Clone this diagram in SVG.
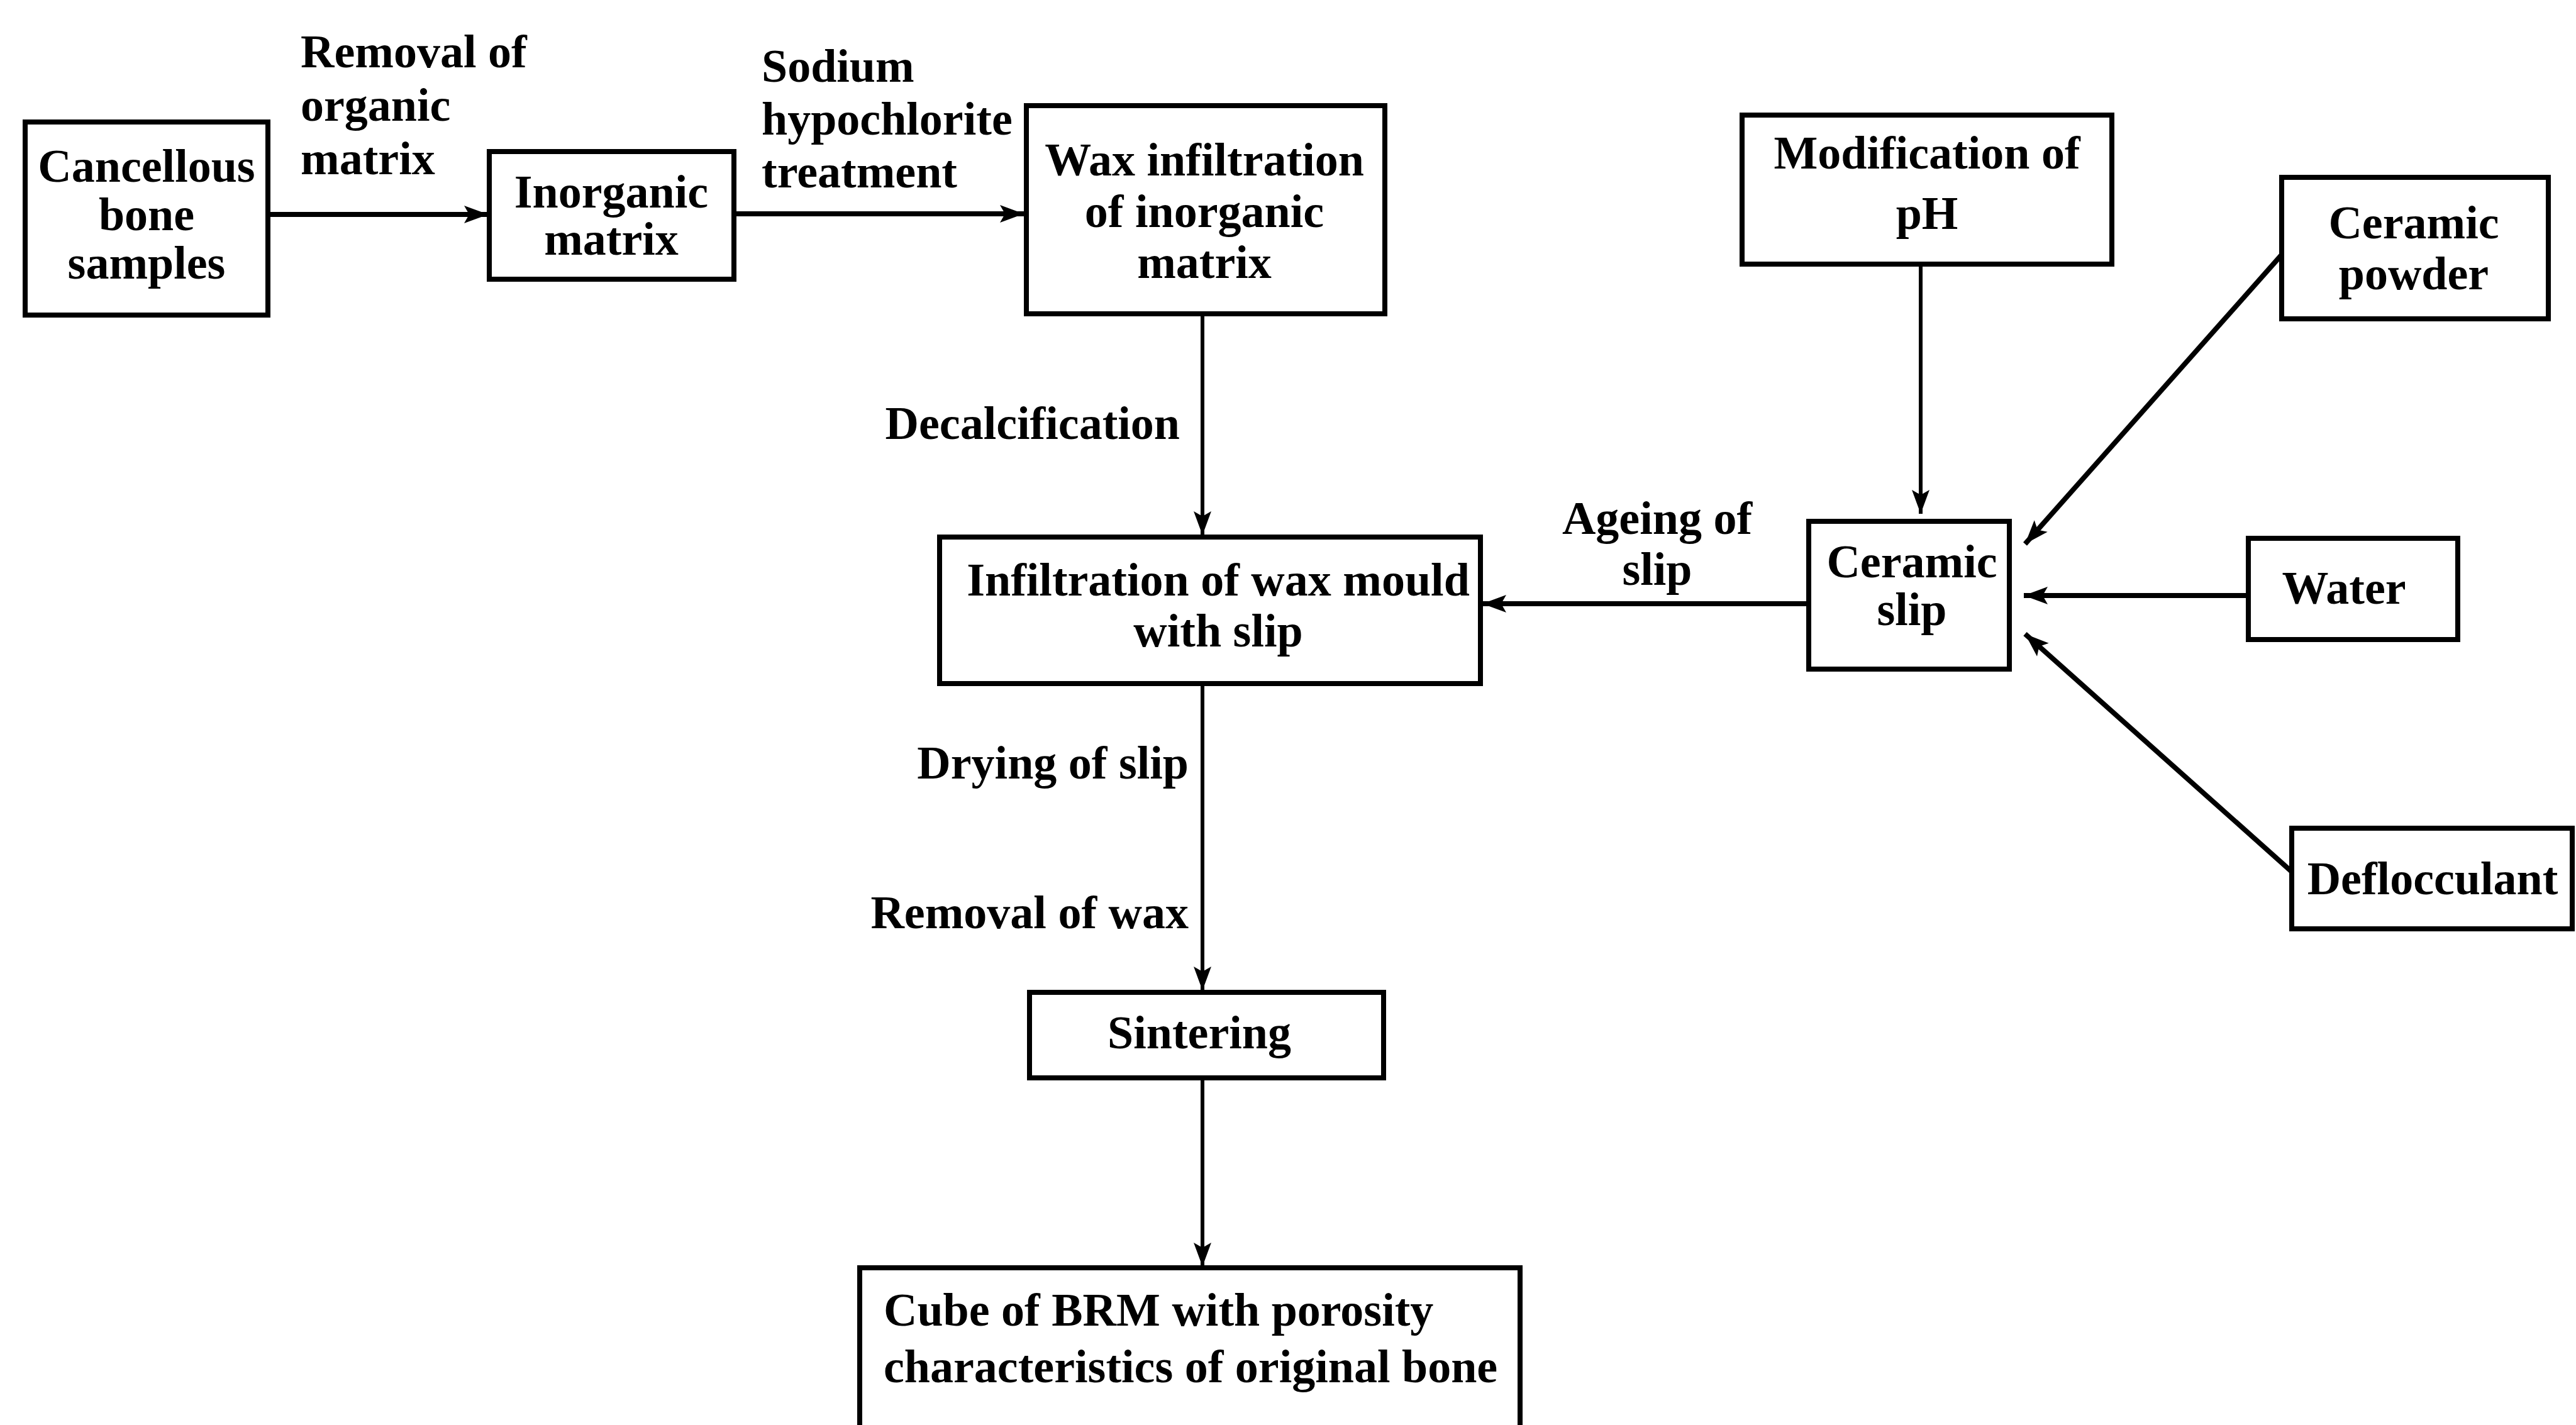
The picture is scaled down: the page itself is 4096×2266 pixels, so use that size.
<svg xmlns="http://www.w3.org/2000/svg" width="4096" height="2266" viewBox="0 0 4096 2266">
<style>
.box{fill:#fff;stroke:#000;stroke-width:8}
.t{font-family:"Liberation Serif","Times New Roman",serif;font-weight:bold;font-size:74px;fill:#000}
.c{text-anchor:middle}
.e{text-anchor:end}
.ln{stroke:#000;stroke-width:6;fill:none;marker-end:url(#ah)}
.lh{stroke-width:8}
</style>
<defs>
<marker id="ah" markerUnits="userSpaceOnUse" markerWidth="48" markerHeight="48" viewBox="0 0 48 48" refX="44" refY="24" orient="auto">
<path d="M6,10 L44,24 L6,38 L14,24 Z" fill="#000"/>
</marker>
</defs>
<rect width="4096" height="2266" fill="#fff"/>
<g id="connectors">
<line class="ln lh" x1="428" y1="341" x2="776" y2="341"/>
<line class="ln lh" x1="1168" y1="340" x2="1628" y2="340"/>
<line class="ln" x1="1912" y1="500" x2="1912" y2="851"/>
<line class="ln" x1="3054" y1="421" x2="3054" y2="817"/>
<line class="ln lh" x1="3628" y1="405" x2="3220" y2="865"/>
<line class="ln lh" x1="3574" y1="947" x2="3218" y2="947"/>
<line class="ln lh" x1="3646" y1="1388" x2="3220" y2="1008"/>
<line class="ln lh" x1="2875" y1="960" x2="2357" y2="960"/>
<line class="ln" x1="1912" y1="1088" x2="1912" y2="1575"/>
<line class="ln" x1="1912" y1="1714" x2="1912" y2="2014"/>
<text class="t" x="478" y="107">Removal of</text>
<text class="t" x="478" y="192">organic</text>
<text class="t" x="478" y="277">matrix</text>
<text class="t" x="1211" y="130">Sodium</text>
<text class="t" x="1211" y="214">hypochlorite</text>
<text class="t" x="1211" y="298">treatment</text>
<text class="t e" x="1876" y="698">Decalcification</text>
<text class="t c" x="2635" y="849">Ageing of</text>
<text class="t c" x="2635" y="930">slip</text>
<text class="t e" x="1890" y="1238">Drying of slip</text>
<text class="t e" x="1890" y="1476">Removal of wax</text>
</g>
<g id="n1"><rect class="box" x="40" y="194" width="386" height="307"/>
<text class="t c" x="233" y="289">Cancellous</text><text class="t c" x="233" y="366">bone</text><text class="t c" x="233" y="443">samples</text></g>
<g id="n2"><rect class="box" x="778" y="241" width="389" height="203"/>
<text class="t c" x="972" y="330">Inorganic</text><text class="t c" x="972" y="405">matrix</text></g>
<g id="n3"><rect class="box" x="1632" y="168" width="570" height="331"/>
<text class="t c" x="1915" y="279">Wax infiltration</text><text class="t c" x="1915" y="361">of inorganic</text><text class="t c" x="1915" y="442">matrix</text></g>
<g id="n4"><rect class="box" x="2770" y="183" width="588" height="237"/>
<text class="t c" x="3064" y="268">Modification of</text><text class="t c" x="3064" y="364">pH</text></g>
<g id="n5"><rect class="box" x="3628" y="282" width="424" height="225"/>
<text class="t c" x="3838" y="379">Ceramic</text><text class="t c" x="3838" y="460">powder</text></g>
<g id="n6"><rect class="box" x="2876" y="829" width="319" height="235"/>
<text class="t c" x="3040" y="918">Ceramic</text><text class="t c" x="3040" y="994">slip</text></g>
<g id="n7"><rect class="box" x="3575" y="856" width="333" height="161"/>
<text class="t c" x="3727" y="960">Water</text></g>
<g id="n8"><rect class="box" x="3644" y="1317" width="446" height="160"/>
<text class="t c" x="3868" y="1422">Deflocculant</text></g>
<g id="n9"><rect class="box" x="1494" y="854" width="860" height="233"/>
<text class="t c" x="1937" y="947">Infiltration of wax mould</text><text class="t c" x="1937" y="1028">with slip</text></g>
<g id="n10"><rect class="box" x="1637" y="1578" width="563" height="136"/>
<text class="t c" x="1907" y="1667">Sintering</text></g>
<g id="n11"><rect class="box" x="1367" y="2016" width="1050" height="270"/>
<text class="t" x="1405" y="2108">Cube of BRM with porosity</text><text class="t" x="1405" y="2198">characteristics of original bone</text></g>
</svg>
